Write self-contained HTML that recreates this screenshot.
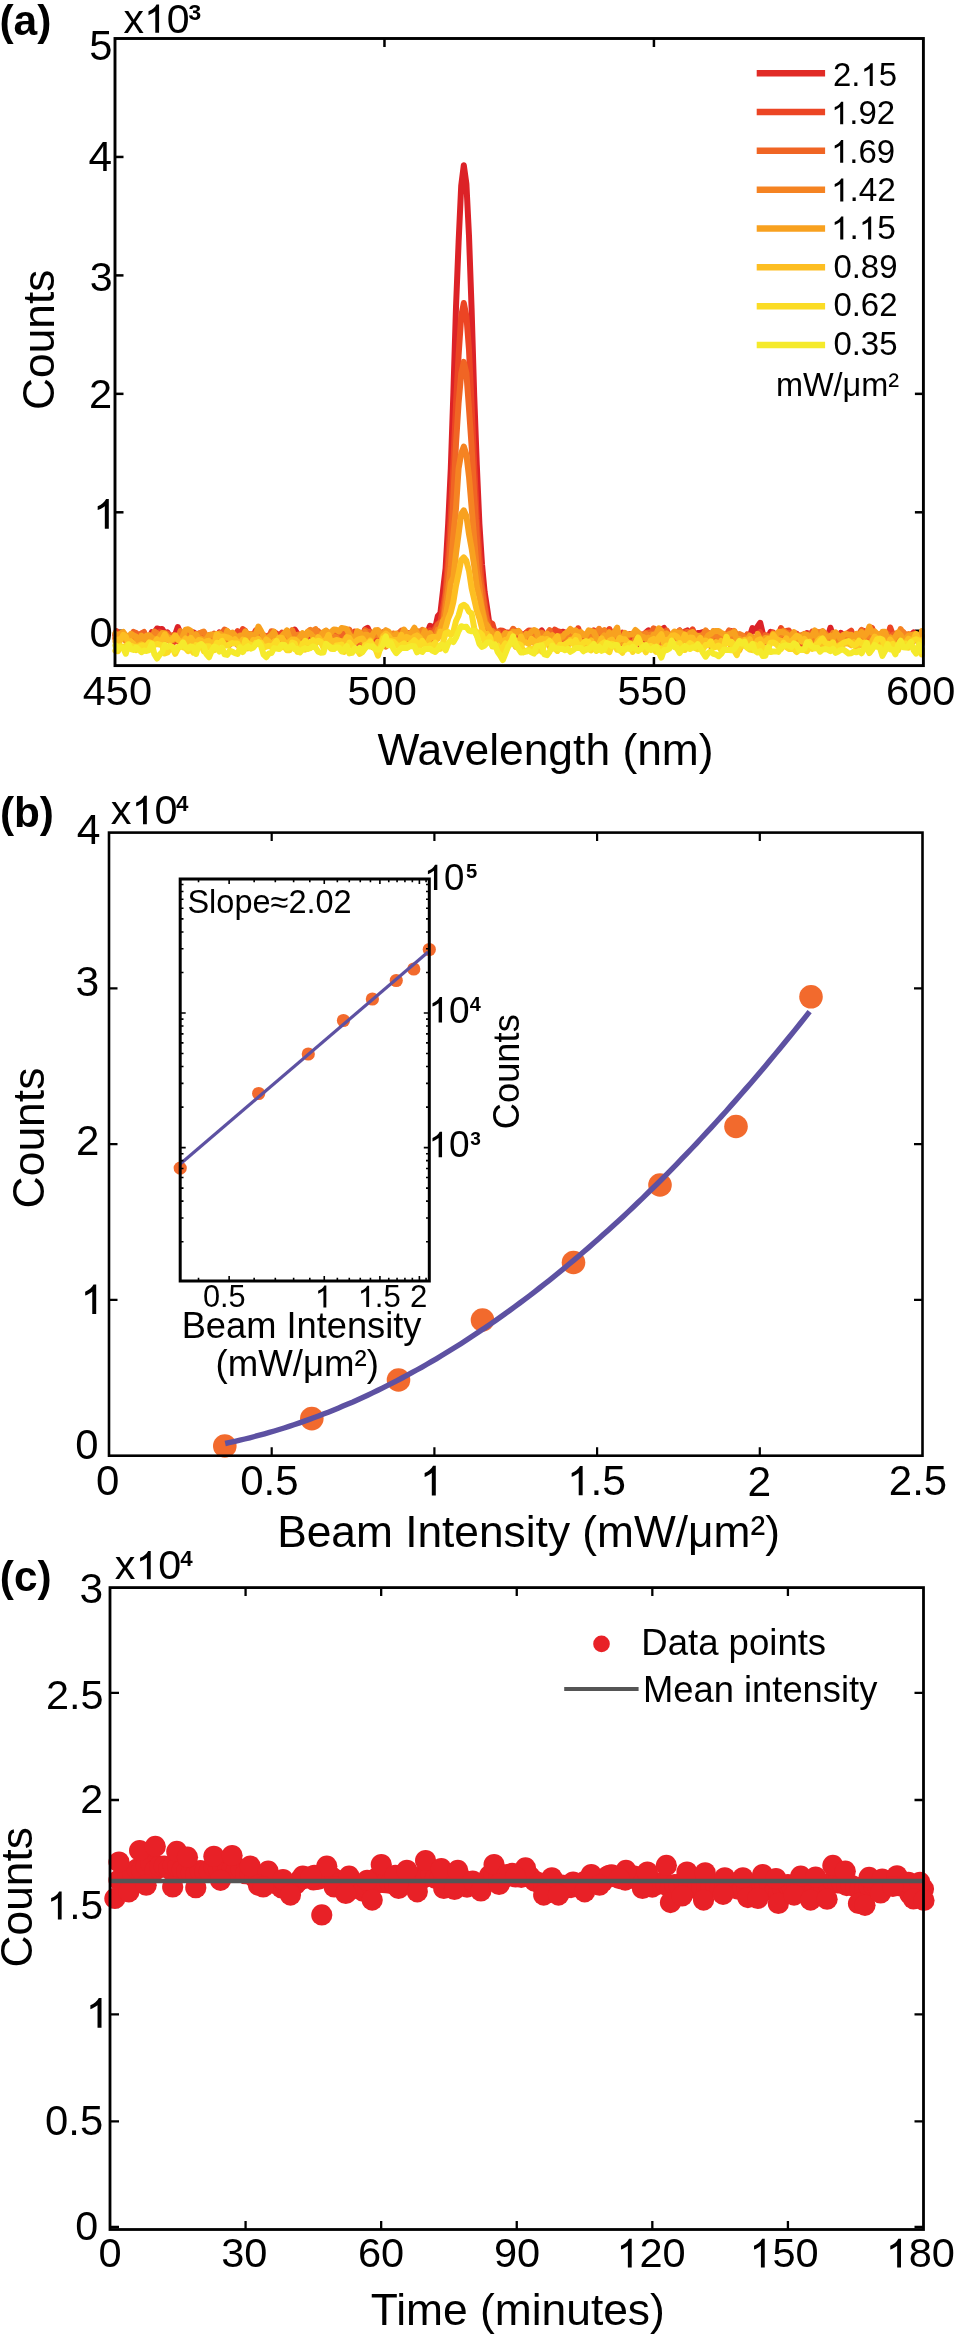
<!DOCTYPE html><html><head><meta charset="utf-8"><style>html,body{margin:0;padding:0;background:#fff;overflow:hidden}svg{display:block;will-change:transform}</style></head><body><svg width="969" height="2334" viewBox="0 0 969 2334" font-family='"Liberation Sans", sans-serif'>
<rect width="969" height="2334" fill="#fff"/>
<g stroke="#000" fill="none">
<path d="M384.47,665.6 v-8.5 M384.47,38.5 v8.5" stroke-width="2.5"/>
<path d="M653.93,665.6 v-8.5 M653.93,38.5 v8.5" stroke-width="2.5"/>
<path d="M115.0,630.75 h8.5" stroke-width="2.5"/>
<path d="M923.4,630.75 h-8.5" stroke-width="2.5"/>
<path d="M115.0,512.30 h8.5" stroke-width="2.5"/>
<path d="M923.4,512.30 h-8.5" stroke-width="2.5"/>
<path d="M115.0,393.85 h8.5" stroke-width="2.5"/>
<path d="M923.4,393.85 h-8.5" stroke-width="2.5"/>
<path d="M115.0,275.40 h8.5" stroke-width="2.5"/>
<path d="M115.0,156.95 h8.5" stroke-width="2.5"/>
</g>
<g fill="none" stroke-width="6" stroke-linejoin="round" stroke-linecap="round">
<polyline stroke="#DC2227" points="116.5,637.9 115.4,635.5 118.0,633.1 120.6,633.8 123.2,633.0 125.8,637.5 128.4,641.7 131.0,635.7 133.6,634.7 136.2,638.6 138.8,638.8 141.4,636.9 144.0,633.6 146.6,636.7 149.2,638.5 151.8,632.1 154.4,632.7 157.0,628.5 159.6,629.2 162.2,628.9 164.8,633.6 167.4,632.3 170.0,637.1 172.6,637.7 175.2,634.4 177.8,627.0 180.4,632.9 183.0,636.5 185.6,636.2 188.2,631.0 190.8,633.2 193.4,632.3 196.0,634.0 198.6,639.7 201.2,634.8 203.8,636.9 206.4,639.8 209.0,635.4 211.6,636.2 214.2,637.4 216.8,636.3 219.4,632.5 222.0,637.4 224.6,640.9 227.2,633.0 229.8,639.1 232.4,637.6 235.0,636.3 237.6,644.6 240.2,640.5 242.8,633.2 245.4,636.8 248.0,639.1 250.6,637.3 253.2,639.4 255.8,637.8 258.4,640.6 261.0,642.4 263.6,635.8 266.2,636.8 268.8,635.5 271.4,636.2 274.0,632.2 276.6,633.7 279.2,636.5 281.8,641.1 284.4,641.0 287.0,632.3 289.6,633.5 292.2,637.2 294.8,629.7 297.4,633.6 300.0,637.3 302.6,642.2 305.2,640.3 307.8,636.0 310.4,635.2 313.0,637.0 315.6,642.2 318.2,636.4 320.8,635.8 323.4,638.0 326.0,636.7 328.6,635.3 331.2,632.7 333.8,635.7 336.4,636.3 339.0,641.5 341.6,640.4 344.2,638.0 346.8,639.2 349.4,637.1 352.0,640.7 354.6,638.3 357.2,638.1 359.8,632.9 362.4,635.9 365.0,629.3 367.6,627.8 370.2,633.5 372.8,633.5 375.4,638.7 378.0,644.9 380.6,635.2 383.2,634.2 385.8,637.7 388.4,638.9 391.0,636.6 393.6,636.7 396.2,639.9 398.8,638.7 401.4,633.5 404.0,635.9 406.6,636.2 409.2,633.3 411.8,636.4 414.4,634.7 417.0,640.0 419.6,638.4 422.2,636.6 424.8,634.0 427.4,633.0 430.0,625.9 432.6,626.9 435.2,627.9 437.8,616.2 440.4,613.1 443.0,590.5 445.6,568.4 448.2,523.2 450.8,468.4 453.4,392.4 456.0,307.3 458.6,242.1 461.2,185.9 463.8,165.2 466.4,184.0 469.0,235.9 471.6,309.0 474.2,395.4 476.8,464.9 479.4,523.9 482.0,564.2 484.6,591.8 487.2,608.8 489.8,626.8 492.4,630.3 495.0,636.0 497.6,634.7 500.2,632.7 502.8,634.0 505.4,634.2 508.0,636.1 510.6,635.2 513.2,634.4 515.8,630.9 518.4,634.2 521.0,642.0 523.6,635.0 526.2,632.8 528.8,638.5 531.4,641.4 534.0,632.5 536.6,634.5 539.2,633.0 541.8,630.5 544.4,638.3 547.0,637.6 549.6,636.6 552.2,634.6 554.8,637.7 557.4,635.2 560.0,635.1 562.6,631.7 565.2,632.6 567.8,640.6 570.4,636.4 573.0,637.7 575.6,636.8 578.2,634.9 580.8,635.2 583.4,638.7 586.0,636.3 588.6,636.2 591.2,637.9 593.8,642.0 596.4,640.8 599.0,638.5 601.6,634.1 604.2,632.1 606.8,640.2 609.4,641.3 612.0,637.7 614.6,639.5 617.2,641.0 619.8,641.5 622.4,640.8 625.0,637.2 627.6,641.3 630.2,634.2 632.8,639.6 635.4,640.2 638.0,642.2 640.6,645.9 643.2,643.2 645.8,632.5 648.4,630.4 651.0,637.9 653.6,633.8 656.2,636.8 658.8,638.8 661.4,629.8 664.0,628.0 666.6,636.3 669.2,637.2 671.8,636.1 674.4,636.3 677.0,632.6 679.6,630.5 682.2,634.4 684.8,631.9 687.4,630.5 690.0,637.5 692.6,637.5 695.2,637.7 697.8,633.1 700.4,632.9 703.0,632.0 705.6,633.0 708.2,636.4 710.8,634.5 713.4,638.0 716.0,640.2 718.6,643.8 721.2,634.1 723.8,639.1 726.4,637.4 729.0,635.7 731.6,631.2 734.2,634.7 736.8,639.4 739.4,637.4 742.0,637.0 744.6,636.9 747.2,641.1 749.8,636.1 752.4,628.2 755.0,631.0 757.6,626.4 760.2,622.8 762.8,633.5 765.4,641.6 768.0,637.3 770.6,631.9 773.2,633.4 775.8,640.6 778.4,638.5 781.0,637.3 783.6,636.9 786.2,637.7 788.8,640.5 791.4,639.9 794.0,637.4 796.6,633.7 799.2,637.5 801.8,635.7 804.4,639.5 807.0,633.0 809.6,635.5 812.2,635.8 814.8,633.4 817.4,643.6 820.0,643.5 822.6,637.1 825.2,639.8 827.8,636.9 830.4,627.7 833.0,635.8 835.6,637.0 838.2,636.4 840.8,632.8 843.4,635.0 846.0,637.1 848.6,641.6 851.2,639.2 853.8,638.5 856.4,642.3 859.0,635.8 861.6,633.6 864.2,631.1 866.8,642.2 869.4,642.6 872.0,641.8 874.6,640.3 877.2,638.1 879.8,637.7 882.4,636.1 885.0,636.1 887.6,638.3 890.2,643.2 892.8,640.3 895.4,636.8 898.0,634.3 900.6,635.4 903.2,642.9 905.8,640.2 908.4,637.4 911.0,634.9 913.6,632.5 916.2,636.6 918.8,639.9 921.4,636.0 921.9,635.7"/>
<polyline stroke="#EC4524" points="116.5,631.1 115.4,634.2 118.0,634.4 120.6,639.0 123.2,635.3 125.8,639.7 128.4,642.8 131.0,636.6 133.6,634.7 136.2,637.2 138.8,636.4 141.4,633.7 144.0,639.5 146.6,644.5 149.2,637.5 151.8,635.2 154.4,633.3 157.0,636.4 159.6,631.8 162.2,633.0 164.8,640.1 167.4,635.5 170.0,641.4 172.6,643.6 175.2,639.6 177.8,640.7 180.4,644.4 183.0,637.3 185.6,633.6 188.2,631.6 190.8,637.2 193.4,643.2 196.0,640.9 198.6,633.7 201.2,632.8 203.8,634.7 206.4,637.5 209.0,636.6 211.6,637.9 214.2,638.0 216.8,636.1 219.4,636.8 222.0,637.7 224.6,637.2 227.2,640.2 229.8,644.7 232.4,640.7 235.0,636.4 237.6,631.2 240.2,635.6 242.8,629.1 245.4,631.0 248.0,639.6 250.6,640.1 253.2,635.7 255.8,630.4 258.4,633.8 261.0,634.7 263.6,640.5 266.2,645.9 268.8,638.9 271.4,633.4 274.0,632.1 276.6,635.7 279.2,635.4 281.8,632.8 284.4,635.6 287.0,633.8 289.6,641.0 292.2,642.6 294.8,641.4 297.4,636.5 300.0,638.4 302.6,636.6 305.2,635.2 307.8,634.4 310.4,630.9 313.0,631.4 315.6,638.6 318.2,637.1 320.8,638.4 323.4,639.5 326.0,630.9 328.6,632.9 331.2,637.3 333.8,638.3 336.4,636.7 339.0,640.6 341.6,637.6 344.2,632.0 346.8,633.3 349.4,639.6 352.0,637.8 354.6,631.5 357.2,640.9 359.8,641.3 362.4,642.1 365.0,636.4 367.6,634.7 370.2,634.6 372.8,645.2 375.4,639.6 378.0,642.1 380.6,636.0 383.2,635.8 385.8,630.7 388.4,635.1 391.0,639.3 393.6,634.0 396.2,640.2 398.8,638.2 401.4,633.1 404.0,634.0 406.6,634.9 409.2,636.0 411.8,634.3 414.4,633.3 417.0,634.4 419.6,631.9 422.2,631.2 424.8,635.9 427.4,637.9 430.0,630.3 432.6,632.1 435.2,628.3 437.8,623.9 440.4,622.0 443.0,607.7 445.6,592.3 448.2,556.3 450.8,516.5 453.4,462.6 456.0,404.2 458.6,355.3 461.2,316.3 463.8,303.0 466.4,316.1 469.0,349.8 471.6,405.5 474.2,464.6 476.8,518.7 479.4,555.1 482.0,585.7 484.6,602.0 487.2,620.2 489.8,622.4 492.4,623.9 495.0,633.0 497.6,638.0 500.2,630.4 502.8,630.7 505.4,632.3 508.0,632.5 510.6,636.8 513.2,633.8 515.8,634.2 518.4,638.0 521.0,635.0 523.6,637.2 526.2,632.9 528.8,630.4 531.4,630.8 534.0,642.1 536.6,637.5 539.2,637.6 541.8,637.2 544.4,637.6 547.0,638.8 549.6,643.2 552.2,633.5 554.8,629.7 557.4,631.1 560.0,631.9 562.6,639.3 565.2,639.8 567.8,633.1 570.4,630.9 573.0,635.7 575.6,639.6 578.2,628.2 580.8,635.9 583.4,634.3 586.0,639.1 588.6,633.7 591.2,633.9 593.8,630.5 596.4,633.4 599.0,641.9 601.6,640.8 604.2,635.5 606.8,632.0 609.4,629.1 612.0,634.1 614.6,636.5 617.2,636.6 619.8,635.7 622.4,632.8 625.0,635.9 627.6,637.8 630.2,643.1 632.8,644.7 635.4,637.4 638.0,634.1 640.6,635.7 643.2,634.2 645.8,633.8 648.4,635.4 651.0,633.6 653.6,638.3 656.2,637.3 658.8,637.7 661.4,636.0 664.0,633.5 666.6,632.8 669.2,635.0 671.8,635.0 674.4,637.4 677.0,636.1 679.6,632.1 682.2,635.1 684.8,631.7 687.4,633.5 690.0,633.8 692.6,629.3 695.2,635.8 697.8,637.5 700.4,636.2 703.0,635.0 705.6,634.5 708.2,632.9 710.8,634.8 713.4,634.9 716.0,636.0 718.6,632.9 721.2,637.0 723.8,637.6 726.4,636.3 729.0,635.7 731.6,637.4 734.2,631.7 736.8,637.6 739.4,638.5 742.0,638.5 744.6,638.1 747.2,634.7 749.8,636.0 752.4,639.5 755.0,639.2 757.6,636.9 760.2,632.1 762.8,638.7 765.4,642.5 768.0,641.8 770.6,637.4 773.2,632.3 775.8,639.1 778.4,635.2 781.0,628.0 783.6,635.2 786.2,630.9 788.8,630.6 791.4,634.7 794.0,640.8 796.6,636.9 799.2,639.1 801.8,644.8 804.4,644.1 807.0,637.7 809.6,635.1 812.2,631.7 814.8,633.8 817.4,638.3 820.0,638.9 822.6,638.5 825.2,640.1 827.8,634.9 830.4,636.8 833.0,640.1 835.6,640.5 838.2,641.7 840.8,639.0 843.4,636.5 846.0,637.3 848.6,632.4 851.2,630.7 853.8,637.8 856.4,637.5 859.0,636.8 861.6,630.8 864.2,633.9 866.8,633.9 869.4,631.6 872.0,627.9 874.6,634.7 877.2,640.3 879.8,638.6 882.4,635.1 885.0,637.1 887.6,637.6 890.2,627.5 892.8,634.8 895.4,639.4 898.0,641.2 900.6,644.6 903.2,642.7 905.8,639.3 908.4,639.0 911.0,639.7 913.6,635.6 916.2,637.1 918.8,641.8 921.4,644.7 921.9,637.9"/>
<polyline stroke="#F06524" points="116.5,641.8 115.4,639.0 118.0,641.3 120.6,634.6 123.2,635.5 125.8,636.8 128.4,640.4 131.0,640.1 133.6,631.9 136.2,633.0 138.8,637.0 141.4,633.8 144.0,632.0 146.6,639.8 149.2,639.8 151.8,638.7 154.4,636.5 157.0,640.0 159.6,637.7 162.2,639.9 164.8,634.0 167.4,633.5 170.0,636.6 172.6,635.2 175.2,639.0 177.8,637.7 180.4,634.1 183.0,636.3 185.6,636.5 188.2,639.4 190.8,635.2 193.4,635.9 196.0,642.5 198.6,647.1 201.2,645.6 203.8,638.9 206.4,638.9 209.0,642.4 211.6,637.0 214.2,633.6 216.8,637.0 219.4,638.0 222.0,633.2 224.6,629.6 227.2,631.3 229.8,637.7 232.4,634.8 235.0,636.1 237.6,638.1 240.2,639.1 242.8,636.7 245.4,637.8 248.0,634.0 250.6,634.3 253.2,634.0 255.8,640.1 258.4,637.2 261.0,634.2 263.6,635.1 266.2,636.5 268.8,638.1 271.4,631.2 274.0,631.9 276.6,636.8 279.2,646.2 281.8,642.1 284.4,637.9 287.0,640.9 289.6,644.5 292.2,637.4 294.8,636.5 297.4,641.3 300.0,640.1 302.6,639.3 305.2,637.2 307.8,644.6 310.4,644.8 313.0,640.7 315.6,638.3 318.2,631.0 320.8,637.6 323.4,637.1 326.0,638.9 328.6,639.4 331.2,635.1 333.8,631.2 336.4,636.5 339.0,634.5 341.6,634.9 344.2,634.4 346.8,633.7 349.4,629.7 352.0,639.7 354.6,639.6 357.2,642.5 359.8,644.7 362.4,637.2 365.0,630.1 367.6,631.7 370.2,631.8 372.8,634.4 375.4,635.4 378.0,630.4 380.6,635.6 383.2,632.2 385.8,636.8 388.4,636.6 391.0,635.8 393.6,636.1 396.2,634.6 398.8,633.2 401.4,630.7 404.0,637.0 406.6,644.8 409.2,646.2 411.8,643.6 414.4,639.9 417.0,636.2 419.6,641.3 422.2,637.6 424.8,636.0 427.4,635.2 430.0,635.3 432.6,632.9 435.2,631.0 437.8,624.9 440.4,622.6 443.0,620.5 445.6,597.8 448.2,571.2 450.8,539.4 453.4,496.3 456.0,443.8 458.6,402.9 461.2,373.6 463.8,361.9 466.4,373.2 469.0,408.8 471.6,446.1 474.2,493.7 476.8,536.6 479.4,575.0 482.0,590.4 484.6,608.8 487.2,621.2 489.8,631.3 492.4,636.0 495.0,638.5 497.6,631.6 500.2,637.4 502.8,635.6 505.4,634.6 508.0,637.6 510.6,632.6 513.2,628.8 515.8,633.1 518.4,631.1 521.0,633.9 523.6,638.0 526.2,639.5 528.8,642.6 531.4,636.3 534.0,631.0 536.6,632.6 539.2,632.4 541.8,632.4 544.4,637.1 547.0,633.6 549.6,630.2 552.2,637.9 554.8,637.4 557.4,638.2 560.0,638.1 562.6,639.3 565.2,638.5 567.8,641.6 570.4,639.7 573.0,639.0 575.6,637.6 578.2,632.1 580.8,635.2 583.4,636.1 586.0,636.5 588.6,633.7 591.2,641.7 593.8,637.7 596.4,631.6 599.0,630.0 601.6,634.7 604.2,635.9 606.8,634.5 609.4,636.3 612.0,635.3 614.6,637.9 617.2,634.9 619.8,637.1 622.4,642.3 625.0,645.9 627.6,635.1 630.2,634.0 632.8,634.3 635.4,638.2 638.0,633.2 640.6,634.5 643.2,635.8 645.8,632.9 648.4,632.6 651.0,633.1 653.6,628.3 656.2,630.1 658.8,634.6 661.4,637.1 664.0,635.2 666.6,630.4 669.2,634.7 671.8,639.8 674.4,639.5 677.0,636.5 679.6,634.3 682.2,638.1 684.8,634.6 687.4,631.9 690.0,634.4 692.6,641.6 695.2,639.7 697.8,640.8 700.4,636.9 703.0,639.4 705.6,635.5 708.2,637.9 710.8,646.1 713.4,641.1 716.0,635.8 718.6,636.6 721.2,639.0 723.8,641.1 726.4,634.9 729.0,630.4 731.6,634.8 734.2,636.9 736.8,638.4 739.4,641.9 742.0,639.7 744.6,639.2 747.2,634.4 749.8,640.7 752.4,645.5 755.0,641.4 757.6,638.6 760.2,639.0 762.8,642.6 765.4,635.0 768.0,636.3 770.6,639.1 773.2,639.6 775.8,636.3 778.4,637.5 781.0,636.4 783.6,637.1 786.2,635.8 788.8,632.9 791.4,636.7 794.0,639.3 796.6,634.1 799.2,635.9 801.8,638.3 804.4,633.9 807.0,636.1 809.6,634.3 812.2,641.9 814.8,647.3 817.4,645.6 820.0,638.3 822.6,639.5 825.2,638.0 827.8,638.6 830.4,641.5 833.0,634.4 835.6,639.6 838.2,638.7 840.8,642.0 843.4,638.2 846.0,635.0 848.6,638.0 851.2,639.8 853.8,638.0 856.4,638.3 859.0,634.0 861.6,629.9 864.2,639.1 866.8,640.2 869.4,638.1 872.0,638.1 874.6,640.3 877.2,635.7 879.8,634.1 882.4,636.7 885.0,639.9 887.6,634.0 890.2,639.6 892.8,634.9 895.4,633.7 898.0,640.5 900.6,636.6 903.2,632.2 905.8,635.5 908.4,640.8 911.0,641.5 913.6,636.7 916.2,638.6 918.8,639.3 921.4,635.6 921.9,637.7"/>
<polyline stroke="#F58322" points="116.5,635.5 115.4,637.4 118.0,637.2 120.6,635.3 123.2,636.5 125.8,641.1 128.4,639.7 131.0,641.5 133.6,642.6 136.2,642.0 138.8,645.0 141.4,636.9 144.0,639.4 146.6,638.4 149.2,644.7 151.8,643.2 154.4,631.5 157.0,633.3 159.6,639.6 162.2,641.2 164.8,640.5 167.4,638.1 170.0,639.5 172.6,640.0 175.2,638.4 177.8,639.3 180.4,631.1 183.0,637.3 185.6,635.2 188.2,639.8 190.8,636.8 193.4,634.6 196.0,637.5 198.6,634.0 201.2,632.6 203.8,631.5 206.4,636.6 209.0,639.9 211.6,641.2 214.2,638.5 216.8,640.9 219.4,638.2 222.0,637.6 224.6,640.1 227.2,641.2 229.8,636.9 232.4,636.3 235.0,636.8 237.6,637.0 240.2,635.3 242.8,640.0 245.4,637.2 248.0,638.2 250.6,635.3 253.2,638.4 255.8,638.8 258.4,637.8 261.0,644.3 263.6,641.5 266.2,644.4 268.8,641.5 271.4,635.7 274.0,636.1 276.6,638.7 279.2,638.1 281.8,637.5 284.4,635.3 287.0,631.0 289.6,633.8 292.2,630.1 294.8,636.6 297.4,634.8 300.0,634.4 302.6,636.4 305.2,637.2 307.8,631.6 310.4,629.8 313.0,631.2 315.6,629.2 318.2,633.9 320.8,641.4 323.4,635.6 326.0,637.9 328.6,633.6 331.2,637.3 333.8,636.6 336.4,637.5 339.0,640.6 341.6,644.0 344.2,639.5 346.8,637.4 349.4,634.7 352.0,638.6 354.6,637.7 357.2,640.1 359.8,639.2 362.4,641.9 365.0,631.9 367.6,635.7 370.2,640.0 372.8,636.4 375.4,634.4 378.0,635.0 380.6,632.8 383.2,638.7 385.8,646.6 388.4,642.3 391.0,634.0 393.6,633.5 396.2,636.2 398.8,640.0 401.4,635.0 404.0,635.2 406.6,640.6 409.2,640.8 411.8,636.0 414.4,632.3 417.0,630.9 419.6,632.3 422.2,629.9 424.8,637.6 427.4,635.7 430.0,639.0 432.6,643.2 435.2,638.8 437.8,629.6 440.4,630.8 443.0,624.8 445.6,607.2 448.2,588.5 450.8,566.3 453.4,534.4 456.0,508.4 458.6,468.4 461.2,453.4 463.8,446.5 466.4,454.6 469.0,476.8 471.6,507.2 474.2,539.1 476.8,570.6 479.4,586.0 482.0,607.5 484.6,618.6 487.2,627.9 489.8,632.1 492.4,630.9 495.0,633.4 497.6,638.9 500.2,638.2 502.8,636.6 505.4,645.4 508.0,645.6 510.6,634.4 513.2,639.2 515.8,646.7 518.4,642.1 521.0,638.7 523.6,636.6 526.2,635.4 528.8,636.0 531.4,636.0 534.0,639.3 536.6,636.4 539.2,634.9 541.8,633.1 544.4,635.8 547.0,634.3 549.6,637.0 552.2,641.1 554.8,639.8 557.4,639.7 560.0,639.1 562.6,637.9 565.2,636.9 567.8,636.9 570.4,639.1 573.0,635.4 575.6,641.3 578.2,638.0 580.8,634.7 583.4,634.8 586.0,635.0 588.6,637.0 591.2,636.0 593.8,640.3 596.4,634.1 599.0,628.8 601.6,632.0 604.2,630.2 606.8,636.7 609.4,641.5 612.0,639.5 614.6,632.9 617.2,635.3 619.8,643.2 622.4,639.9 625.0,638.5 627.6,642.8 630.2,647.5 632.8,643.7 635.4,639.2 638.0,639.2 640.6,639.4 643.2,635.1 645.8,633.5 648.4,636.2 651.0,634.3 653.6,636.7 656.2,639.5 658.8,644.8 661.4,636.2 664.0,636.4 666.6,637.2 669.2,639.6 671.8,641.0 674.4,636.0 677.0,633.2 679.6,630.7 682.2,633.6 684.8,638.7 687.4,637.3 690.0,633.8 692.6,635.5 695.2,637.7 697.8,638.8 700.4,635.7 703.0,634.9 705.6,630.4 708.2,633.5 710.8,640.5 713.4,631.1 716.0,634.9 718.6,637.7 721.2,635.8 723.8,634.5 726.4,636.7 729.0,637.4 731.6,635.9 734.2,631.0 736.8,635.0 739.4,634.1 742.0,635.2 744.6,638.3 747.2,640.5 749.8,640.6 752.4,637.1 755.0,641.1 757.6,642.9 760.2,643.2 762.8,642.9 765.4,637.9 768.0,637.4 770.6,639.2 773.2,633.6 775.8,636.8 778.4,635.6 781.0,634.6 783.6,630.7 786.2,633.2 788.8,637.4 791.4,641.2 794.0,641.4 796.6,637.8 799.2,636.2 801.8,634.9 804.4,638.1 807.0,637.4 809.6,640.6 812.2,643.8 814.8,637.6 817.4,631.8 820.0,632.5 822.6,631.1 825.2,633.4 827.8,641.2 830.4,638.1 833.0,633.0 835.6,639.5 838.2,642.0 840.8,636.7 843.4,634.7 846.0,636.1 848.6,638.7 851.2,640.7 853.8,642.8 856.4,643.3 859.0,643.3 861.6,643.4 864.2,639.6 866.8,632.7 869.4,636.2 872.0,638.2 874.6,637.1 877.2,640.0 879.8,636.3 882.4,635.2 885.0,642.2 887.6,640.9 890.2,639.4 892.8,641.5 895.4,642.0 898.0,637.6 900.6,629.0 903.2,633.1 905.8,634.8 908.4,634.0 911.0,638.3 913.6,641.3 916.2,635.9 918.8,634.8 921.4,643.2 921.9,636.6"/>
<polyline stroke="#F8A11F" points="116.5,636.0 115.4,633.6 118.0,636.7 120.6,633.4 123.2,631.9 125.8,635.5 128.4,637.1 131.0,633.8 133.6,635.5 136.2,636.8 138.8,643.3 141.4,635.6 144.0,638.8 146.6,635.7 149.2,635.1 151.8,637.8 154.4,639.1 157.0,639.8 159.6,636.5 162.2,633.0 164.8,633.3 167.4,636.6 170.0,638.1 172.6,640.0 175.2,638.0 177.8,639.6 180.4,640.6 183.0,635.5 185.6,629.7 188.2,629.3 190.8,630.8 193.4,638.4 196.0,634.2 198.6,638.7 201.2,638.8 203.8,641.4 206.4,639.2 209.0,635.2 211.6,634.4 214.2,635.2 216.8,635.2 219.4,633.4 222.0,635.6 224.6,638.9 227.2,630.9 229.8,634.1 232.4,632.5 235.0,635.5 237.6,637.7 240.2,635.9 242.8,636.3 245.4,631.3 248.0,637.0 250.6,634.3 253.2,636.7 255.8,634.3 258.4,626.5 261.0,631.0 263.6,636.2 266.2,640.2 268.8,637.1 271.4,635.1 274.0,631.7 276.6,639.7 279.2,641.6 281.8,636.2 284.4,633.2 287.0,630.4 289.6,638.5 292.2,644.5 294.8,639.9 297.4,639.8 300.0,636.9 302.6,633.2 305.2,637.7 307.8,631.9 310.4,633.7 313.0,636.3 315.6,638.2 318.2,637.2 320.8,636.0 323.4,632.0 326.0,630.5 328.6,633.9 331.2,631.9 333.8,629.6 336.4,629.8 339.0,631.4 341.6,628.0 344.2,628.4 346.8,629.1 349.4,634.7 352.0,637.7 354.6,640.6 357.2,631.2 359.8,632.5 362.4,637.3 365.0,634.7 367.6,635.0 370.2,639.9 372.8,634.3 375.4,630.3 378.0,630.3 380.6,635.4 383.2,635.3 385.8,630.3 388.4,631.4 391.0,636.4 393.6,636.7 396.2,633.8 398.8,636.9 401.4,636.0 404.0,629.6 406.6,633.1 409.2,635.7 411.8,632.0 414.4,627.7 417.0,633.2 419.6,638.2 422.2,638.9 424.8,630.7 427.4,640.6 430.0,633.2 432.6,636.9 435.2,638.1 437.8,635.3 440.4,629.0 443.0,620.9 445.6,617.2 448.2,601.6 450.8,582.9 453.4,577.4 456.0,553.6 458.6,533.9 461.2,514.0 463.8,510.3 466.4,515.9 469.0,534.3 471.6,548.4 474.2,565.8 476.8,586.5 479.4,597.0 482.0,609.8 484.6,622.5 487.2,625.5 489.8,630.1 492.4,633.7 495.0,640.6 497.6,639.6 500.2,636.2 502.8,638.0 505.4,633.0 508.0,634.0 510.6,636.8 513.2,631.5 515.8,632.4 518.4,630.8 521.0,635.6 523.6,639.7 526.2,633.9 528.8,634.6 531.4,631.6 534.0,630.0 536.6,631.3 539.2,640.3 541.8,643.7 544.4,637.6 547.0,633.6 549.6,636.5 552.2,635.0 554.8,637.5 557.4,636.6 560.0,636.5 562.6,636.7 565.2,633.3 567.8,632.2 570.4,629.0 573.0,631.5 575.6,630.2 578.2,633.0 580.8,632.0 583.4,635.0 586.0,635.5 588.6,630.3 591.2,630.9 593.8,632.0 596.4,637.8 599.0,641.4 601.6,638.6 604.2,635.5 606.8,638.3 609.4,632.2 612.0,638.2 614.6,632.1 617.2,627.6 619.8,642.5 622.4,641.0 625.0,632.9 627.6,634.7 630.2,634.5 632.8,634.2 635.4,630.0 638.0,632.2 640.6,636.2 643.2,636.8 645.8,639.0 648.4,637.6 651.0,641.9 653.6,634.5 656.2,634.0 658.8,628.3 661.4,630.7 664.0,637.7 666.6,633.3 669.2,636.0 671.8,634.5 674.4,631.5 677.0,632.9 679.6,632.8 682.2,633.6 684.8,637.5 687.4,637.2 690.0,633.0 692.6,632.0 695.2,635.2 697.8,635.6 700.4,639.9 703.0,644.6 705.6,639.4 708.2,635.3 710.8,633.9 713.4,631.6 716.0,630.9 718.6,631.0 721.2,632.8 723.8,633.9 726.4,636.8 729.0,634.1 731.6,633.3 734.2,632.2 736.8,639.7 739.4,638.9 742.0,641.5 744.6,639.7 747.2,640.0 749.8,635.7 752.4,638.9 755.0,643.1 757.6,633.8 760.2,639.0 762.8,641.4 765.4,638.0 768.0,638.5 770.6,639.1 773.2,634.0 775.8,635.3 778.4,632.0 781.0,631.8 783.6,632.5 786.2,634.2 788.8,635.7 791.4,635.6 794.0,632.1 796.6,641.2 799.2,640.6 801.8,637.9 804.4,634.3 807.0,634.8 809.6,637.0 812.2,635.5 814.8,630.4 817.4,638.2 820.0,643.6 822.6,631.8 825.2,637.2 827.8,636.8 830.4,635.8 833.0,638.5 835.6,632.3 838.2,635.7 840.8,639.7 843.4,635.1 846.0,633.6 848.6,634.8 851.2,634.7 853.8,639.0 856.4,633.8 859.0,636.3 861.6,632.0 864.2,636.2 866.8,633.3 869.4,626.6 872.0,632.5 874.6,631.3 877.2,633.9 879.8,638.9 882.4,631.7 885.0,631.8 887.6,639.0 890.2,637.4 892.8,640.3 895.4,636.5 898.0,632.3 900.6,635.0 903.2,639.6 905.8,638.9 908.4,635.7 911.0,635.1 913.6,634.3 916.2,634.4 918.8,640.8 921.4,635.6 921.9,631.0"/>
<polyline stroke="#FDBE22" points="116.5,644.8 115.4,641.5 118.0,639.4 120.6,640.2 123.2,634.8 125.8,636.5 128.4,643.5 131.0,641.2 133.6,644.0 136.2,647.3 138.8,645.4 141.4,644.3 144.0,650.4 146.6,645.9 149.2,641.8 151.8,644.7 154.4,643.4 157.0,639.2 159.6,641.5 162.2,639.9 164.8,634.5 167.4,639.6 170.0,640.5 172.6,638.9 175.2,635.3 177.8,639.4 180.4,641.7 183.0,641.4 185.6,638.4 188.2,642.5 190.8,637.8 193.4,641.2 196.0,646.1 198.6,640.1 201.2,640.4 203.8,645.2 206.4,641.2 209.0,640.8 211.6,643.4 214.2,644.3 216.8,634.1 219.4,636.4 222.0,636.8 224.6,636.5 227.2,637.3 229.8,638.5 232.4,641.7 235.0,639.1 237.6,642.1 240.2,643.0 242.8,639.7 245.4,643.2 248.0,648.4 250.6,644.0 253.2,639.9 255.8,640.5 258.4,638.8 261.0,642.9 263.6,644.7 266.2,639.5 268.8,641.5 271.4,645.5 274.0,641.2 276.6,641.5 279.2,637.8 281.8,637.8 284.4,641.2 287.0,649.1 289.6,641.8 292.2,639.4 294.8,639.4 297.4,641.5 300.0,644.4 302.6,644.8 305.2,649.7 307.8,645.5 310.4,647.6 313.0,644.6 315.6,643.3 318.2,637.2 320.8,640.4 323.4,641.5 326.0,639.4 328.6,634.8 331.2,643.2 333.8,641.0 336.4,639.9 339.0,640.6 341.6,641.3 344.2,642.3 346.8,637.0 349.4,637.9 352.0,642.4 354.6,642.5 357.2,640.3 359.8,639.0 362.4,638.5 365.0,642.1 367.6,645.4 370.2,640.3 372.8,647.3 375.4,645.8 378.0,641.6 380.6,643.3 383.2,636.0 385.8,633.7 388.4,635.7 391.0,639.3 393.6,640.1 396.2,640.0 398.8,640.3 401.4,634.8 404.0,641.0 406.6,636.8 409.2,638.2 411.8,639.1 414.4,636.5 417.0,635.4 419.6,637.3 422.2,641.6 424.8,644.4 427.4,643.4 430.0,637.8 432.6,636.9 435.2,637.0 437.8,638.8 440.4,631.6 443.0,637.0 445.6,628.0 448.2,618.7 450.8,612.3 453.4,601.7 456.0,585.6 458.6,573.3 461.2,560.1 463.8,557.4 466.4,560.9 469.0,570.9 471.6,588.0 474.2,599.2 476.8,610.6 479.4,618.2 482.0,628.2 484.6,636.0 487.2,634.0 489.8,641.1 492.4,642.5 495.0,640.7 497.6,633.8 500.2,640.2 502.8,643.5 505.4,639.8 508.0,639.9 510.6,634.0 513.2,642.1 515.8,640.8 518.4,643.2 521.0,636.6 523.6,642.9 526.2,642.3 528.8,644.0 531.4,638.8 534.0,640.8 536.6,648.9 539.2,640.2 541.8,638.6 544.4,639.7 547.0,639.0 549.6,646.8 552.2,648.6 554.8,639.5 557.4,636.2 560.0,645.7 562.6,647.5 565.2,646.7 567.8,646.1 570.4,639.7 573.0,639.7 575.6,635.8 578.2,636.6 580.8,643.9 583.4,642.1 586.0,649.7 588.6,643.5 591.2,640.4 593.8,645.7 596.4,649.4 599.0,644.2 601.6,638.3 604.2,643.5 606.8,646.8 609.4,640.7 612.0,639.6 614.6,645.2 617.2,642.4 619.8,637.9 622.4,639.2 625.0,639.2 627.6,642.6 630.2,643.5 632.8,646.7 635.4,644.2 638.0,637.3 640.6,642.9 643.2,645.9 645.8,645.1 648.4,645.6 651.0,640.1 653.6,638.9 656.2,643.8 658.8,637.2 661.4,634.2 664.0,643.5 666.6,640.0 669.2,639.3 671.8,635.7 674.4,635.3 677.0,636.6 679.6,640.1 682.2,641.3 684.8,634.6 687.4,642.0 690.0,637.5 692.6,637.8 695.2,643.6 697.8,641.1 700.4,637.9 703.0,646.8 705.6,640.5 708.2,642.4 710.8,644.0 713.4,646.9 716.0,642.2 718.6,644.7 721.2,641.0 723.8,644.9 726.4,639.9 729.0,641.6 731.6,648.8 734.2,644.7 736.8,644.4 739.4,650.4 742.0,644.4 744.6,639.9 747.2,643.1 749.8,639.2 752.4,646.1 755.0,646.7 757.6,640.4 760.2,639.4 762.8,642.2 765.4,641.4 768.0,638.9 770.6,641.7 773.2,634.8 775.8,638.6 778.4,640.0 781.0,640.9 783.6,641.9 786.2,638.3 788.8,643.0 791.4,641.3 794.0,638.5 796.6,635.7 799.2,637.0 801.8,641.6 804.4,638.9 807.0,642.3 809.6,646.6 812.2,647.7 814.8,648.2 817.4,641.3 820.0,638.7 822.6,645.1 825.2,644.8 827.8,646.3 830.4,643.8 833.0,646.9 835.6,646.5 838.2,645.6 840.8,644.7 843.4,644.0 846.0,643.3 848.6,643.7 851.2,645.3 853.8,642.3 856.4,647.7 859.0,643.7 861.6,645.4 864.2,642.2 866.8,642.6 869.4,648.9 872.0,641.5 874.6,636.6 877.2,638.2 879.8,642.0 882.4,649.6 885.0,645.1 887.6,644.7 890.2,639.4 892.8,643.0 895.4,646.1 898.0,648.4 900.6,641.4 903.2,643.9 905.8,642.8 908.4,638.6 911.0,640.9 913.6,639.3 916.2,633.9 918.8,642.8 921.4,644.1 921.9,639.8"/>
<polyline stroke="#FBDC25" points="116.5,648.8 115.4,650.8 118.0,651.3 120.6,645.8 123.2,648.3 125.8,645.7 128.4,645.5 131.0,645.7 133.6,646.8 136.2,650.0 138.8,647.1 141.4,645.4 144.0,645.2 146.6,646.3 149.2,642.8 151.8,643.5 154.4,645.0 157.0,643.9 159.6,644.7 162.2,645.3 164.8,653.5 167.4,652.5 170.0,648.5 172.6,647.8 175.2,653.8 177.8,648.7 180.4,646.2 183.0,647.2 185.6,648.3 188.2,651.1 190.8,648.6 193.4,652.6 196.0,645.0 198.6,647.0 201.2,644.4 203.8,651.3 206.4,646.2 209.0,646.2 211.6,650.1 214.2,650.2 216.8,642.8 219.4,642.9 222.0,641.0 224.6,645.4 227.2,645.5 229.8,644.2 232.4,643.1 235.0,643.6 237.6,643.5 240.2,648.4 242.8,650.2 245.4,640.3 248.0,643.8 250.6,644.8 253.2,646.7 255.8,642.9 258.4,644.0 261.0,642.8 263.6,647.7 266.2,646.7 268.8,645.8 271.4,647.0 274.0,644.3 276.6,640.8 279.2,647.1 281.8,647.3 284.4,646.4 287.0,650.2 289.6,650.2 292.2,642.5 294.8,643.6 297.4,651.9 300.0,651.5 302.6,643.6 305.2,640.9 307.8,642.5 310.4,642.6 313.0,640.1 315.6,644.0 318.2,640.7 320.8,641.5 323.4,647.8 326.0,644.3 328.6,645.7 331.2,648.7 333.8,649.1 336.4,645.5 339.0,645.3 341.6,644.5 344.2,652.0 346.8,648.7 349.4,642.6 352.0,645.7 354.6,648.8 357.2,649.6 359.8,653.8 362.4,651.7 365.0,645.1 367.6,644.3 370.2,641.7 372.8,646.0 375.4,648.7 378.0,655.6 380.6,646.8 383.2,638.3 385.8,642.2 388.4,645.0 391.0,641.1 393.6,641.8 396.2,644.3 398.8,646.8 401.4,645.0 404.0,643.4 406.6,647.7 409.2,644.3 411.8,642.8 414.4,640.2 417.0,642.7 419.6,646.5 422.2,640.8 424.8,645.0 427.4,648.0 430.0,645.2 432.6,645.3 435.2,642.6 437.8,649.4 440.4,648.9 443.0,642.8 445.6,633.3 448.2,632.1 450.8,635.1 453.4,631.7 456.0,621.0 458.6,615.4 461.2,606.3 463.8,604.7 466.4,606.7 469.0,611.6 471.6,613.5 474.2,627.9 476.8,635.6 479.4,632.3 482.0,634.7 484.6,642.1 487.2,640.1 489.8,636.7 492.4,646.5 495.0,646.4 497.6,645.8 500.2,653.0 502.8,647.4 505.4,643.5 508.0,645.0 510.6,641.9 513.2,642.9 515.8,646.4 518.4,644.0 521.0,645.3 523.6,652.1 526.2,650.8 528.8,649.8 531.4,648.8 534.0,649.2 536.6,651.4 539.2,648.4 541.8,651.7 544.4,643.9 547.0,643.4 549.6,640.8 552.2,644.2 554.8,648.6 557.4,650.9 560.0,644.8 562.6,645.3 565.2,644.2 567.8,642.3 570.4,641.4 573.0,644.0 575.6,640.1 578.2,645.1 580.8,645.7 583.4,643.0 586.0,641.0 588.6,641.8 591.2,650.5 593.8,643.9 596.4,650.9 599.0,649.0 601.6,644.3 604.2,642.5 606.8,650.1 609.4,652.1 612.0,643.8 614.6,645.0 617.2,649.7 619.8,649.4 622.4,652.8 625.0,645.9 627.6,646.5 630.2,643.6 632.8,651.8 635.4,643.4 638.0,637.7 640.6,643.8 643.2,646.9 645.8,652.3 648.4,646.2 651.0,646.1 653.6,649.2 656.2,651.9 658.8,647.7 661.4,650.0 664.0,648.4 666.6,645.4 669.2,646.1 671.8,645.5 674.4,643.7 677.0,648.5 679.6,643.0 682.2,649.8 684.8,650.1 687.4,645.8 690.0,643.1 692.6,645.0 695.2,648.0 697.8,649.2 700.4,648.3 703.0,649.3 705.6,645.0 708.2,645.2 710.8,641.3 713.4,647.6 716.0,646.8 718.6,645.5 721.2,650.3 723.8,647.2 726.4,636.7 729.0,643.0 731.6,641.8 734.2,650.5 736.8,655.1 739.4,646.1 742.0,645.7 744.6,645.4 747.2,647.5 749.8,649.5 752.4,650.2 755.0,644.7 757.6,650.0 760.2,644.1 762.8,647.1 765.4,650.8 768.0,648.6 770.6,642.7 773.2,642.5 775.8,643.8 778.4,646.3 781.0,649.0 783.6,642.7 786.2,647.1 788.8,648.9 791.4,648.7 794.0,649.2 796.6,652.0 799.2,649.5 801.8,649.8 804.4,649.9 807.0,651.2 809.6,641.7 812.2,648.9 814.8,645.8 817.4,644.1 820.0,641.0 822.6,638.5 825.2,642.8 827.8,643.7 830.4,646.1 833.0,642.3 835.6,650.1 838.2,647.8 840.8,644.8 843.4,642.8 846.0,641.9 848.6,641.1 851.2,643.3 853.8,645.5 856.4,644.3 859.0,640.7 861.6,643.4 864.2,642.8 866.8,647.3 869.4,653.1 872.0,649.3 874.6,644.2 877.2,639.1 879.8,638.6 882.4,639.6 885.0,646.7 887.6,643.9 890.2,645.2 892.8,643.9 895.4,646.9 898.0,650.4 900.6,644.4 903.2,643.7 905.8,643.6 908.4,647.7 911.0,642.2 913.6,640.3 916.2,639.3 918.8,640.4 921.4,648.5 921.9,654.6"/>
<polyline stroke="#F5EA2B" points="116.5,649.7 115.4,645.3 118.0,647.1 120.6,647.5 123.2,647.9 125.8,653.7 128.4,644.2 131.0,649.1 133.6,650.0 136.2,647.4 138.8,649.7 141.4,652.2 144.0,650.5 146.6,651.0 149.2,650.2 151.8,643.7 154.4,654.2 157.0,658.5 159.6,654.7 162.2,652.1 164.8,644.9 167.4,647.0 170.0,645.7 172.6,647.1 175.2,651.3 177.8,646.9 180.4,646.6 183.0,642.3 185.6,647.1 188.2,648.7 190.8,646.2 193.4,647.4 196.0,654.0 198.6,645.5 201.2,644.0 203.8,646.4 206.4,654.0 209.0,657.2 211.6,651.1 214.2,646.5 216.8,647.8 219.4,651.6 222.0,647.7 224.6,654.3 227.2,654.9 229.8,650.7 232.4,651.8 235.0,653.1 237.6,654.0 240.2,647.4 242.8,652.0 245.4,648.0 248.0,646.2 250.6,648.6 253.2,647.6 255.8,644.3 258.4,642.2 261.0,645.7 263.6,654.7 266.2,657.2 268.8,653.5 271.4,653.1 274.0,648.1 276.6,648.6 279.2,649.1 281.8,644.8 284.4,644.9 287.0,648.4 289.6,647.2 292.2,645.4 294.8,649.3 297.4,649.1 300.0,652.3 302.6,649.5 305.2,648.1 307.8,649.1 310.4,648.0 313.0,646.3 315.6,647.7 318.2,651.7 320.8,652.7 323.4,652.6 326.0,643.9 328.6,646.1 331.2,647.4 333.8,649.0 336.4,647.2 339.0,647.5 341.6,651.4 344.2,649.3 346.8,646.1 349.4,653.4 352.0,652.9 354.6,648.4 357.2,650.9 359.8,647.9 362.4,652.1 365.0,648.5 367.6,645.9 370.2,646.6 372.8,646.3 375.4,649.2 378.0,649.8 380.6,648.8 383.2,644.5 385.8,636.3 388.4,645.3 391.0,642.8 393.6,649.3 396.2,653.2 398.8,650.5 401.4,647.8 404.0,648.0 406.6,648.0 409.2,646.6 411.8,646.0 414.4,646.3 417.0,652.3 419.6,650.5 422.2,652.0 424.8,648.9 427.4,648.9 430.0,648.7 432.6,650.8 435.2,651.9 437.8,649.2 440.4,645.1 443.0,645.0 445.6,650.3 448.2,643.4 450.8,640.2 453.4,642.1 456.0,637.6 458.6,631.0 461.2,626.2 463.8,627.0 466.4,626.8 469.0,630.7 471.6,631.3 474.2,630.7 476.8,635.1 479.4,644.0 482.0,646.9 484.6,645.5 487.2,642.6 489.8,642.3 492.4,645.4 495.0,644.3 497.6,651.7 500.2,655.5 502.8,660.0 505.4,653.6 508.0,647.0 510.6,643.1 513.2,636.3 515.8,644.4 518.4,648.7 521.0,652.6 523.6,652.2 526.2,651.6 528.8,650.6 531.4,652.4 534.0,653.6 536.6,646.1 539.2,645.7 541.8,645.1 544.4,654.4 547.0,655.1 549.6,651.6 552.2,645.6 554.8,648.5 557.4,648.4 560.0,649.0 562.6,648.8 565.2,650.3 567.8,648.7 570.4,651.8 573.0,650.2 575.6,648.1 578.2,648.1 580.8,648.0 583.4,651.2 586.0,648.9 588.6,649.5 591.2,646.8 593.8,644.3 596.4,650.2 599.0,646.6 601.6,650.8 604.2,649.7 606.8,643.0 609.4,644.2 612.0,646.0 614.6,645.0 617.2,644.9 619.8,650.5 622.4,649.0 625.0,649.8 627.6,648.0 630.2,649.2 632.8,646.7 635.4,648.8 638.0,651.0 640.6,649.2 643.2,646.7 645.8,645.1 648.4,649.0 651.0,650.1 653.6,647.8 656.2,646.6 658.8,652.1 661.4,657.6 664.0,650.0 666.6,650.2 669.2,648.7 671.8,640.7 674.4,647.0 677.0,647.7 679.6,653.0 682.2,648.6 684.8,646.0 687.4,647.8 690.0,649.0 692.6,647.2 695.2,647.4 697.8,644.2 700.4,647.8 703.0,652.9 705.6,656.7 708.2,653.0 710.8,651.3 713.4,653.9 716.0,654.5 718.6,656.2 721.2,653.8 723.8,649.6 726.4,649.9 729.0,650.0 731.6,650.3 734.2,649.3 736.8,645.0 739.4,640.8 742.0,643.7 744.6,641.7 747.2,647.8 749.8,647.8 752.4,643.8 755.0,650.7 757.6,652.5 760.2,651.2 762.8,656.1 765.4,655.7 768.0,647.0 770.6,652.0 773.2,651.5 775.8,651.4 778.4,651.9 781.0,646.8 783.6,645.9 786.2,645.2 788.8,645.8 791.4,647.1 794.0,643.3 796.6,644.8 799.2,650.1 801.8,649.5 804.4,648.9 807.0,642.3 809.6,644.6 812.2,646.6 814.8,648.3 817.4,647.7 820.0,651.7 822.6,649.5 825.2,649.0 827.8,649.6 830.4,651.1 833.0,648.7 835.6,652.8 838.2,651.5 840.8,649.9 843.4,649.6 846.0,651.5 848.6,653.5 851.2,653.2 853.8,651.6 856.4,652.3 859.0,650.9 861.6,653.3 864.2,648.3 866.8,642.9 869.4,652.1 872.0,649.5 874.6,645.0 877.2,646.8 879.8,647.4 882.4,655.8 885.0,651.1 887.6,644.4 890.2,649.4 892.8,649.4 895.4,654.4 898.0,645.2 900.6,640.7 903.2,647.3 905.8,647.6 908.4,645.8 911.0,641.8 913.6,650.1 916.2,653.6 918.8,644.6 921.4,651.2 921.9,649.6"/>
</g>
<rect x="115.0" y="38.5" width="808.4" height="627.1" stroke-width="2.9" stroke="#000" fill="none"/>
<path d="M756.7,73.20 H825.1" stroke="#E12B26" stroke-width="6.5"/>
<text x="833.05" y="85.97" font-size="32.96" fill="#000">2. 5</text>
<path d="M0.3707,-0.688 L0.3707,0 L0.2785,0 L0.2785,-0.5225 C0.22,-0.48 0.17,-0.45 0.113,-0.4303 L0.113,-0.5225 C0.20,-0.555 0.27,-0.61 0.308,-0.688 Z" fill="#000" transform="translate(860.54,85.97) scale(32.958)"/>
<path d="M756.7,112.03 H825.1" stroke="#EC4524" stroke-width="6.5"/>
<text x="830.98" y="124.34" font-size="32.96" fill="#000"> .92</text>
<path d="M0.3707,-0.688 L0.3707,0 L0.2785,0 L0.2785,-0.5225 C0.22,-0.48 0.17,-0.45 0.113,-0.4303 L0.113,-0.5225 C0.20,-0.555 0.27,-0.61 0.308,-0.688 Z" fill="#000" transform="translate(830.98,124.34) scale(32.958)"/>
<path d="M756.7,150.86 H825.1" stroke="#F06524" stroke-width="6.5"/>
<text x="830.98" y="162.71" font-size="32.96" fill="#000"> .69</text>
<path d="M0.3707,-0.688 L0.3707,0 L0.2785,0 L0.2785,-0.5225 C0.22,-0.48 0.17,-0.45 0.113,-0.4303 L0.113,-0.5225 C0.20,-0.555 0.27,-0.61 0.308,-0.688 Z" fill="#000" transform="translate(830.98,162.71) scale(32.958)"/>
<path d="M756.7,189.69 H825.1" stroke="#F58322" stroke-width="6.5"/>
<text x="830.92" y="201.41" font-size="33.43" fill="#000"> .42</text>
<path d="M0.3707,-0.688 L0.3707,0 L0.2785,0 L0.2785,-0.5225 C0.22,-0.48 0.17,-0.45 0.113,-0.4303 L0.113,-0.5225 C0.20,-0.555 0.27,-0.61 0.308,-0.688 Z" fill="#000" transform="translate(830.92,201.41) scale(33.429)"/>
<path d="M756.7,228.52 H825.1" stroke="#F8A11F" stroke-width="6.5"/>
<text x="830.92" y="239.45" font-size="33.43" fill="#000"> . 5</text>
<path d="M0.3707,-0.688 L0.3707,0 L0.2785,0 L0.2785,-0.5225 C0.22,-0.48 0.17,-0.45 0.113,-0.4303 L0.113,-0.5225 C0.20,-0.555 0.27,-0.61 0.308,-0.688 Z" fill="#000" transform="translate(830.92,239.45) scale(33.429)"/>
<path d="M0.3707,-0.688 L0.3707,0 L0.2785,0 L0.2785,-0.5225 C0.22,-0.48 0.17,-0.45 0.113,-0.4303 L0.113,-0.5225 C0.20,-0.555 0.27,-0.61 0.308,-0.688 Z" fill="#000" transform="translate(858.80,239.45) scale(33.429)"/>
<path d="M756.7,267.35 H825.1" stroke="#FDBE22" stroke-width="6.5"/>
<text x="833.38" y="277.82" font-size="32.96" fill="#000">0.89</text>
<path d="M756.7,306.18 H825.1" stroke="#FBDC25" stroke-width="6.5"/>
<text x="833.38" y="316.19" font-size="32.96" fill="#000">0.62</text>
<path d="M756.7,345.01 H825.1" stroke="#F5EA2B" stroke-width="6.5"/>
<text x="833.38" y="354.56" font-size="32.96" fill="#000">0.35</text>
<text x="775.89" y="395.68" font-size="32.46" fill="#000">mW/μm²</text>
<text x="89.37" y="59.58" font-size="41.71" fill="#000">5</text>
<text x="88.62" y="171.00" font-size="42.32" fill="#000">4</text>
<text x="89.64" y="291.09" font-size="41.13" fill="#000">3</text>
<text x="88.91" y="407.60" font-size="41.57" fill="#000">2</text>
<path d="M0.3707,-0.688 L0.3707,0 L0.2785,0 L0.2785,-0.5225 C0.22,-0.48 0.17,-0.45 0.113,-0.4303 L0.113,-0.5225 C0.20,-0.555 0.27,-0.61 0.308,-0.688 Z" fill="#000" transform="translate(92.80,528.70) scale(43.169)"/>
<text x="89.49" y="647.48" font-size="41.83" fill="#000">0</text>
<text x="82.77" y="705.28" font-size="41.55" fill="#000">450</text>
<text x="347.46" y="705.28" font-size="41.55" fill="#000">500</text>
<text x="617.46" y="705.28" font-size="41.55" fill="#000">550</text>
<text x="885.95" y="705.28" font-size="41.55" fill="#000">600</text>
<text x="377.38" y="765.43" font-size="44.39" fill="#000">Wavelength (nm)</text>
<text x="0" y="0" font-size="44.28" transform="translate(53.88,409.91) rotate(-90)">Counts</text>
<text x="-0.62" y="35.46" font-size="42.57" font-weight="bold" fill="#000">(a)</text>
<text x="123.39" y="32.79" font-size="40.99" fill="#000">x 0</text>
<path d="M0.3707,-0.688 L0.3707,0 L0.2785,0 L0.2785,-0.5225 C0.22,-0.48 0.17,-0.45 0.113,-0.4303 L0.113,-0.5225 C0.20,-0.555 0.27,-0.61 0.308,-0.688 Z" fill="#000" transform="translate(143.88,32.79) scale(40.986)"/>
<text x="188.49" y="20.17" font-size="22.81" font-weight="bold" fill="#000">3</text>
<g fill="#F26A2D">
<circle cx="224.8" cy="1446" r="11.8"/>
<circle cx="311.8" cy="1418.6" r="11.8"/>
<circle cx="398.5" cy="1380" r="11.8"/>
<circle cx="482.5" cy="1320" r="11.8"/>
<circle cx="573.5" cy="1262.5" r="11.8"/>
<circle cx="660" cy="1185" r="11.8"/>
<circle cx="736" cy="1126.5" r="11.8"/>
<circle cx="811" cy="996.8" r="11.8"/>
</g>
<polyline fill="none" stroke="#5D51A2" stroke-width="5.4" points="225.2,1443.5 230.1,1442.4 235.0,1441.3 239.9,1440.2 244.8,1439.0 249.7,1437.8 254.6,1436.5 259.5,1435.2 264.5,1433.8 269.4,1432.4 274.3,1431.0 279.2,1429.5 284.1,1428.0 289.0,1426.4 293.9,1424.8 298.8,1423.1 303.7,1421.4 308.7,1419.6 313.6,1417.8 318.5,1416.0 323.4,1414.1 328.3,1412.2 333.2,1410.2 338.1,1408.2 343.0,1406.1 347.9,1404.0 352.9,1401.9 357.8,1399.7 362.7,1397.5 367.6,1395.2 372.5,1392.9 377.4,1390.5 382.3,1388.1 387.2,1385.7 392.1,1383.2 397.1,1380.6 402.0,1378.0 406.9,1375.4 411.8,1372.7 416.7,1370.0 421.6,1367.3 426.5,1364.5 431.4,1361.6 436.3,1358.8 441.3,1355.8 446.2,1352.8 451.1,1349.8 456.0,1346.8 460.9,1343.7 465.8,1340.5 470.7,1337.3 475.6,1334.1 480.5,1330.8 485.5,1327.5 490.4,1324.1 495.3,1320.7 500.2,1317.2 505.1,1313.7 510.0,1310.2 514.9,1306.6 519.8,1303.0 524.7,1299.3 529.7,1295.6 534.6,1291.8 539.5,1288.0 544.4,1284.2 549.3,1280.3 554.2,1276.4 559.1,1272.4 564.0,1268.4 568.9,1264.3 573.9,1260.2 578.8,1256.0 583.7,1251.8 588.6,1247.6 593.5,1243.3 598.4,1239.0 603.3,1234.6 608.2,1230.2 613.1,1225.7 618.1,1221.2 623.0,1216.7 627.9,1212.1 632.8,1207.5 637.7,1202.8 642.6,1198.1 647.5,1193.3 652.4,1188.5 657.3,1183.7 662.3,1178.8 667.2,1173.8 672.1,1168.8 677.0,1163.8 681.9,1158.7 686.8,1153.6 691.7,1148.5 696.6,1143.3 701.5,1138.0 706.5,1132.7 711.4,1127.4 716.3,1122.0 721.2,1116.6 726.1,1111.2 731.0,1105.6 735.9,1100.1 740.8,1094.5 745.7,1088.9 750.7,1083.2 755.6,1077.5 760.5,1071.7 765.4,1065.9 770.3,1060.0 775.2,1054.1 780.1,1048.2 785.0,1042.2 789.9,1036.2 794.9,1030.1 799.8,1024.0 804.7,1017.8 809.6,1011.6"/>
<g stroke="#000" fill="none">
<rect x="109.0" y="832.6" width="813.5" height="623.1" stroke-width="2.6"/>
<path d="M271.70,1455.7 v-8.5 M271.70,832.6 v8.5" stroke-width="2.2"/>
<path d="M434.40,1455.7 v-8.5 M434.40,832.6 v8.5" stroke-width="2.2"/>
<path d="M597.10,1455.7 v-8.5 M597.10,832.6 v8.5" stroke-width="2.2"/>
<path d="M759.80,1455.7 v-8.5 M759.80,832.6 v8.5" stroke-width="2.2"/>
<path d="M109.0,1299.92 h8.5 M922.5,1299.92 h-8.5" stroke-width="2.2"/>
<path d="M109.0,1144.15 h8.5 M922.5,1144.15 h-8.5" stroke-width="2.2"/>
<path d="M109.0,988.38 h8.5 M922.5,988.38 h-8.5" stroke-width="2.2"/>
</g>
<rect x="180.2" y="879.0" width="249.10000000000002" height="402.0" fill="#fff" stroke="none"/>
<g fill="#F26A2D">
<circle cx="180.20" cy="1168.1" r="6.6"/>
<circle cx="258.66" cy="1093.5" r="6.6"/>
<circle cx="308.27" cy="1054" r="6.6"/>
<circle cx="343.44" cy="1020.5" r="6.6"/>
<circle cx="372.38" cy="999" r="6.6"/>
<circle cx="396.26" cy="980.5" r="6.6"/>
<circle cx="413.77" cy="969" r="6.6"/>
<circle cx="429.30" cy="949.5" r="6.6"/>
</g>
<path d="M180.5,1163.7 L428.1,952" stroke="#5D51A2" stroke-width="3.2" fill="none"/>
<g stroke="#000" fill="none">
<rect x="180.2" y="879.0" width="249.10000000000002" height="402.0" stroke-width="3"/>
<path d="M198.52,1281.0 v-3.3 M198.52,879.0 v3.3" stroke-width="1.6"/>
<path d="M229.14,1281.0 v-5 M229.14,879.0 v5" stroke-width="1.6"/>
<path d="M254.16,1281.0 v-3.3 M254.16,879.0 v3.3" stroke-width="1.6"/>
<path d="M275.32,1281.0 v-3.3 M275.32,879.0 v3.3" stroke-width="1.6"/>
<path d="M293.64,1281.0 v-3.3 M293.64,879.0 v3.3" stroke-width="1.6"/>
<path d="M309.80,1281.0 v-3.3 M309.80,879.0 v3.3" stroke-width="1.6"/>
<path d="M324.26,1281.0 v-5 M324.26,879.0 v5" stroke-width="1.6"/>
<path d="M337.34,1281.0 v-3.3 M337.34,879.0 v3.3" stroke-width="1.6"/>
<path d="M349.28,1281.0 v-3.3 M349.28,879.0 v3.3" stroke-width="1.6"/>
<path d="M360.26,1281.0 v-3.3 M360.26,879.0 v3.3" stroke-width="1.6"/>
<path d="M370.43,1281.0 v-3.3 M370.43,879.0 v3.3" stroke-width="1.6"/>
<path d="M379.90,1281.0 v-5 M379.90,879.0 v5" stroke-width="1.6"/>
<path d="M388.76,1281.0 v-3.3 M388.76,879.0 v3.3" stroke-width="1.6"/>
<path d="M397.07,1281.0 v-3.3 M397.07,879.0 v3.3" stroke-width="1.6"/>
<path d="M404.92,1281.0 v-3.3 M404.92,879.0 v3.3" stroke-width="1.6"/>
<path d="M412.34,1281.0 v-3.3 M412.34,879.0 v3.3" stroke-width="1.6"/>
<path d="M419.38,1281.0 v-5 M419.38,879.0 v5" stroke-width="1.6"/>
<path d="M426.07,1281.0 v-3.3 M426.07,879.0 v3.3" stroke-width="1.6"/>
<path d="M180.2,1241.68 h3.3 M429.3,1241.68 h-3.3" stroke-width="1.6"/>
<path d="M180.2,1217.98 h3.3 M429.3,1217.98 h-3.3" stroke-width="1.6"/>
<path d="M180.2,1201.16 h3.3 M429.3,1201.16 h-3.3" stroke-width="1.6"/>
<path d="M180.2,1188.12 h3.3 M429.3,1188.12 h-3.3" stroke-width="1.6"/>
<path d="M180.2,1177.46 h3.3 M429.3,1177.46 h-3.3" stroke-width="1.6"/>
<path d="M180.2,1168.45 h3.3 M429.3,1168.45 h-3.3" stroke-width="1.6"/>
<path d="M180.2,1160.64 h3.3 M429.3,1160.64 h-3.3" stroke-width="1.6"/>
<path d="M180.2,1153.76 h3.3 M429.3,1153.76 h-3.3" stroke-width="1.6"/>
<path d="M180.2,1147.60 h5.5 M429.3,1147.60 h-5.5" stroke-width="1.6"/>
<path d="M180.2,1107.08 h3.3 M429.3,1107.08 h-3.3" stroke-width="1.6"/>
<path d="M180.2,1083.38 h3.3 M429.3,1083.38 h-3.3" stroke-width="1.6"/>
<path d="M180.2,1066.56 h3.3 M429.3,1066.56 h-3.3" stroke-width="1.6"/>
<path d="M180.2,1053.52 h3.3 M429.3,1053.52 h-3.3" stroke-width="1.6"/>
<path d="M180.2,1042.86 h3.3 M429.3,1042.86 h-3.3" stroke-width="1.6"/>
<path d="M180.2,1033.85 h3.3 M429.3,1033.85 h-3.3" stroke-width="1.6"/>
<path d="M180.2,1026.04 h3.3 M429.3,1026.04 h-3.3" stroke-width="1.6"/>
<path d="M180.2,1019.16 h3.3 M429.3,1019.16 h-3.3" stroke-width="1.6"/>
<path d="M180.2,1013.00 h5.5 M429.3,1013.00 h-5.5" stroke-width="1.6"/>
<path d="M180.2,972.48 h3.3 M429.3,972.48 h-3.3" stroke-width="1.6"/>
<path d="M180.2,948.78 h3.3 M429.3,948.78 h-3.3" stroke-width="1.6"/>
<path d="M180.2,931.96 h3.3 M429.3,931.96 h-3.3" stroke-width="1.6"/>
<path d="M180.2,918.92 h3.3 M429.3,918.92 h-3.3" stroke-width="1.6"/>
<path d="M180.2,908.26 h3.3 M429.3,908.26 h-3.3" stroke-width="1.6"/>
<path d="M180.2,899.25 h3.3 M429.3,899.25 h-3.3" stroke-width="1.6"/>
<path d="M180.2,891.44 h3.3 M429.3,891.44 h-3.3" stroke-width="1.6"/>
<path d="M180.2,884.56 h3.3 M429.3,884.56 h-3.3" stroke-width="1.6"/>
</g>
<text x="187.44" y="913.17" font-size="32.51" fill="#000">Slope≈2.02</text>
<text x="423.76" y="889.93" font-size="36.62" fill="#000"> 0</text>
<path d="M0.3707,-0.688 L0.3707,0 L0.2785,0 L0.2785,-0.5225 C0.22,-0.48 0.17,-0.45 0.113,-0.4303 L0.113,-0.5225 C0.20,-0.555 0.27,-0.61 0.308,-0.688 Z" fill="#000" transform="translate(423.76,889.93) scale(36.620)"/>
<text x="466.07" y="878.30" font-size="20.29" font-weight="bold" fill="#000">5</text>
<text x="428.31" y="1022.53" font-size="37.04" fill="#000"> 0</text>
<path d="M0.3707,-0.688 L0.3707,0 L0.2785,0 L0.2785,-0.5225 C0.22,-0.48 0.17,-0.45 0.113,-0.4303 L0.113,-0.5225 C0.20,-0.555 0.27,-0.61 0.308,-0.688 Z" fill="#000" transform="translate(428.31,1022.53) scale(37.042)"/>
<text x="469.79" y="1011.00" font-size="19.86" font-weight="bold" fill="#000">4</text>
<text x="428.31" y="1157.33" font-size="37.04" fill="#000"> 0</text>
<path d="M0.3707,-0.688 L0.3707,0 L0.2785,0 L0.2785,-0.5225 C0.22,-0.48 0.17,-0.45 0.113,-0.4303 L0.113,-0.5225 C0.20,-0.555 0.27,-0.61 0.308,-0.688 Z" fill="#000" transform="translate(428.31,1157.33) scale(37.042)"/>
<text x="470.18" y="1144.81" font-size="19.15" font-weight="bold" fill="#000">3</text>
<text x="0" y="0" font-size="36.30" transform="translate(518.78,1129.22) rotate(-90)">Counts</text>
<text x="203.01" y="1307.09" font-size="30.70" fill="#000">0.5</text>
<path d="M0.3707,-0.688 L0.3707,0 L0.2785,0 L0.2785,-0.5225 C0.22,-0.48 0.17,-0.45 0.113,-0.4303 L0.113,-0.5225 C0.20,-0.555 0.27,-0.61 0.308,-0.688 Z" fill="#000" transform="translate(314.59,1307.40) scale(31.686)"/>
<text x="357.57" y="1307.09" font-size="31.14" fill="#000"> .5</text>
<path d="M0.3707,-0.688 L0.3707,0 L0.2785,0 L0.2785,-0.5225 C0.22,-0.48 0.17,-0.45 0.113,-0.4303 L0.113,-0.5225 C0.20,-0.555 0.27,-0.61 0.308,-0.688 Z" fill="#000" transform="translate(357.57,1307.09) scale(31.143)"/>
<text x="410.01" y="1307.40" font-size="31.14" fill="#000">2</text>
<text x="181.70" y="1338.23" font-size="36.25" fill="#000">Beam Intensity</text>
<text x="215.60" y="1375.93" font-size="36.61" fill="#000">(mW/μm²)</text>
<text x="76.79" y="843.70" font-size="42.61" fill="#000">4</text>
<text x="75.41" y="996.17" font-size="42.68" fill="#000">3</text>
<text x="76.09" y="1155.20" font-size="42.00" fill="#000">2</text>
<path d="M0.3707,-0.688 L0.3707,0 L0.2785,0 L0.2785,-0.5225 C0.22,-0.48 0.17,-0.45 0.113,-0.4303 L0.113,-0.5225 C0.20,-0.555 0.27,-0.61 0.308,-0.688 Z" fill="#000" transform="translate(80.36,1314.00) scale(42.733)"/>
<text x="75.29" y="1458.78" font-size="41.83" fill="#000">0</text>
<text x="95.95" y="1495.18" font-size="41.97" fill="#000">0</text>
<text x="240.18" y="1495.18" font-size="41.97" fill="#000">0.5</text>
<path d="M0.3707,-0.688 L0.3707,0 L0.2785,0 L0.2785,-0.5225 C0.22,-0.48 0.17,-0.45 0.113,-0.4303 L0.113,-0.5225 C0.20,-0.555 0.27,-0.61 0.308,-0.688 Z" fill="#000" transform="translate(419.74,1495.60) scale(43.314)"/>
<text x="566.86" y="1495.17" font-size="42.57" fill="#000"> .5</text>
<path d="M0.3707,-0.688 L0.3707,0 L0.2785,0 L0.2785,-0.5225 C0.22,-0.48 0.17,-0.45 0.113,-0.4303 L0.113,-0.5225 C0.20,-0.555 0.27,-0.61 0.308,-0.688 Z" fill="#000" transform="translate(566.86,1495.17) scale(42.571)"/>
<text x="747.44" y="1495.60" font-size="42.57" fill="#000">2</text>
<text x="888.82" y="1495.18" font-size="41.97" fill="#000">2.5</text>
<text x="277.16" y="1546.95" font-size="44.29" fill="#000">Beam Intensity (mW/μm²)</text>
<text x="0" y="0" font-size="44.44" transform="translate(43.83,1208.42) rotate(-90)">Counts</text>
<text x="-0.11" y="826.91" font-size="42.35" font-weight="bold" fill="#000">(b)</text>
<text x="110.79" y="824.19" font-size="41.41" fill="#000">x 0</text>
<path d="M0.3707,-0.688 L0.3707,0 L0.2785,0 L0.2785,-0.5225 C0.22,-0.48 0.17,-0.45 0.113,-0.4303 L0.113,-0.5225 C0.20,-0.555 0.27,-0.61 0.308,-0.688 Z" fill="#000" transform="translate(131.49,824.19) scale(41.408)"/>
<text x="176.09" y="810.60" font-size="22.32" font-weight="bold" fill="#000">4</text>
<g stroke="#000" fill="none">
<path d="M245.58,2229.5 v-8.5 M245.58,1587.6 v8.5" stroke-width="2.3"/>
<path d="M381.17,2229.5 v-8.5 M381.17,1587.6 v8.5" stroke-width="2.3"/>
<path d="M516.75,2229.5 v-8.5 M516.75,1587.6 v8.5" stroke-width="2.3"/>
<path d="M652.33,2229.5 v-8.5 M652.33,1587.6 v8.5" stroke-width="2.3"/>
<path d="M787.92,2229.5 v-8.5 M787.92,1587.6 v8.5" stroke-width="2.3"/>
<path d="M110.0,2121.45 h9 M923.5,2121.45 h-9" stroke-width="2.3"/>
<path d="M110.0,2014.30 h9 M923.5,2014.30 h-9" stroke-width="2.3"/>
<path d="M110.0,1907.15 h9 M923.5,1907.15 h-9" stroke-width="2.3"/>
<path d="M110.0,1800.00 h9 M923.5,1800.00 h-9" stroke-width="2.3"/>
<path d="M110.0,1692.85 h9 M923.5,1692.85 h-9" stroke-width="2.3"/>
<path d="M110.0,2227.0 h9 M923.5,2227.0 h-9" stroke-width="2.3"/>
</g>
<g fill="#E82127">
<circle cx="119.0" cy="1880.1" r="10.6"/>
<circle cx="123.6" cy="1876.6" r="10.6"/>
<circle cx="128.1" cy="1876.8" r="10.6"/>
<circle cx="132.6" cy="1873.5" r="10.6"/>
<circle cx="137.1" cy="1869.1" r="10.6"/>
<circle cx="141.6" cy="1869.9" r="10.6"/>
<circle cx="146.2" cy="1866.0" r="10.6"/>
<circle cx="150.7" cy="1863.0" r="10.6"/>
<circle cx="155.2" cy="1870.2" r="10.6"/>
<circle cx="159.7" cy="1866.0" r="10.6"/>
<circle cx="164.2" cy="1866.2" r="10.6"/>
<circle cx="168.8" cy="1868.8" r="10.6"/>
<circle cx="173.3" cy="1865.6" r="10.6"/>
<circle cx="177.8" cy="1866.8" r="10.6"/>
<circle cx="182.3" cy="1869.8" r="10.6"/>
<circle cx="186.8" cy="1871.1" r="10.6"/>
<circle cx="191.4" cy="1872.5" r="10.6"/>
<circle cx="195.9" cy="1874.5" r="10.6"/>
<circle cx="200.4" cy="1870.6" r="10.6"/>
<circle cx="204.9" cy="1871.8" r="10.6"/>
<circle cx="209.4" cy="1871.2" r="10.6"/>
<circle cx="213.9" cy="1867.1" r="10.6"/>
<circle cx="218.5" cy="1869.0" r="10.6"/>
<circle cx="223.0" cy="1866.4" r="10.6"/>
<circle cx="227.5" cy="1870.6" r="10.6"/>
<circle cx="232.0" cy="1869.6" r="10.6"/>
<circle cx="236.5" cy="1870.3" r="10.6"/>
<circle cx="241.1" cy="1869.2" r="10.6"/>
<circle cx="245.6" cy="1873.7" r="10.6"/>
<circle cx="250.1" cy="1873.6" r="10.6"/>
<circle cx="254.6" cy="1877.5" r="10.6"/>
<circle cx="259.1" cy="1876.8" r="10.6"/>
<circle cx="263.7" cy="1876.9" r="10.6"/>
<circle cx="268.2" cy="1881.6" r="10.6"/>
<circle cx="272.7" cy="1883.2" r="10.6"/>
<circle cx="277.2" cy="1882.5" r="10.6"/>
<circle cx="281.7" cy="1888.0" r="10.6"/>
<circle cx="286.3" cy="1885.8" r="10.6"/>
<circle cx="290.8" cy="1885.9" r="10.6"/>
<circle cx="295.3" cy="1884.4" r="10.6"/>
<circle cx="299.8" cy="1880.3" r="10.6"/>
<circle cx="304.3" cy="1878.6" r="10.6"/>
<circle cx="308.9" cy="1877.1" r="10.6"/>
<circle cx="313.4" cy="1879.8" r="10.6"/>
<circle cx="317.9" cy="1879.4" r="10.6"/>
<circle cx="322.4" cy="1875.1" r="10.6"/>
<circle cx="326.9" cy="1878.2" r="10.6"/>
<circle cx="331.5" cy="1876.9" r="10.6"/>
<circle cx="336.0" cy="1879.9" r="10.6"/>
<circle cx="340.5" cy="1883.2" r="10.6"/>
<circle cx="345.0" cy="1884.3" r="10.6"/>
<circle cx="349.5" cy="1890.2" r="10.6"/>
<circle cx="354.0" cy="1886.9" r="10.6"/>
<circle cx="358.6" cy="1885.1" r="10.6"/>
<circle cx="363.1" cy="1891.2" r="10.6"/>
<circle cx="367.6" cy="1888.6" r="10.6"/>
<circle cx="372.1" cy="1886.8" r="10.6"/>
<circle cx="376.6" cy="1878.0" r="10.6"/>
<circle cx="381.2" cy="1882.5" r="10.6"/>
<circle cx="385.7" cy="1882.7" r="10.6"/>
<circle cx="390.2" cy="1883.4" r="10.6"/>
<circle cx="394.7" cy="1884.5" r="10.6"/>
<circle cx="399.2" cy="1884.5" r="10.6"/>
<circle cx="403.8" cy="1880.4" r="10.6"/>
<circle cx="408.3" cy="1881.8" r="10.6"/>
<circle cx="412.8" cy="1877.6" r="10.6"/>
<circle cx="417.3" cy="1877.6" r="10.6"/>
<circle cx="421.8" cy="1879.0" r="10.6"/>
<circle cx="426.4" cy="1876.6" r="10.6"/>
<circle cx="430.9" cy="1874.0" r="10.6"/>
<circle cx="435.4" cy="1878.3" r="10.6"/>
<circle cx="439.9" cy="1878.1" r="10.6"/>
<circle cx="444.4" cy="1877.2" r="10.6"/>
<circle cx="449.0" cy="1880.1" r="10.6"/>
<circle cx="453.5" cy="1878.8" r="10.6"/>
<circle cx="458.0" cy="1876.9" r="10.6"/>
<circle cx="462.5" cy="1879.6" r="10.6"/>
<circle cx="467.0" cy="1887.1" r="10.6"/>
<circle cx="471.6" cy="1882.3" r="10.6"/>
<circle cx="476.1" cy="1885.0" r="10.6"/>
<circle cx="480.6" cy="1884.2" r="10.6"/>
<circle cx="485.1" cy="1881.8" r="10.6"/>
<circle cx="489.6" cy="1875.5" r="10.6"/>
<circle cx="494.2" cy="1874.8" r="10.6"/>
<circle cx="498.7" cy="1876.6" r="10.6"/>
<circle cx="503.2" cy="1878.6" r="10.6"/>
<circle cx="507.7" cy="1876.2" r="10.6"/>
<circle cx="512.2" cy="1873.3" r="10.6"/>
<circle cx="516.8" cy="1876.4" r="10.6"/>
<circle cx="521.3" cy="1877.3" r="10.6"/>
<circle cx="525.8" cy="1876.5" r="10.6"/>
<circle cx="530.3" cy="1876.9" r="10.6"/>
<circle cx="534.8" cy="1881.2" r="10.6"/>
<circle cx="539.3" cy="1882.9" r="10.6"/>
<circle cx="543.9" cy="1886.6" r="10.6"/>
<circle cx="548.4" cy="1883.3" r="10.6"/>
<circle cx="552.9" cy="1886.8" r="10.6"/>
<circle cx="557.4" cy="1886.7" r="10.6"/>
<circle cx="561.9" cy="1885.0" r="10.6"/>
<circle cx="566.5" cy="1887.8" r="10.6"/>
<circle cx="571.0" cy="1887.6" r="10.6"/>
<circle cx="575.5" cy="1886.2" r="10.6"/>
<circle cx="580.0" cy="1886.6" r="10.6"/>
<circle cx="584.5" cy="1881.7" r="10.6"/>
<circle cx="589.1" cy="1882.5" r="10.6"/>
<circle cx="593.6" cy="1882.1" r="10.6"/>
<circle cx="598.1" cy="1880.9" r="10.6"/>
<circle cx="602.6" cy="1881.7" r="10.6"/>
<circle cx="607.1" cy="1876.5" r="10.6"/>
<circle cx="611.7" cy="1874.9" r="10.6"/>
<circle cx="616.2" cy="1877.0" r="10.6"/>
<circle cx="620.7" cy="1876.5" r="10.6"/>
<circle cx="625.2" cy="1880.1" r="10.6"/>
<circle cx="629.7" cy="1878.1" r="10.6"/>
<circle cx="634.3" cy="1876.2" r="10.6"/>
<circle cx="638.8" cy="1880.7" r="10.6"/>
<circle cx="643.3" cy="1878.6" r="10.6"/>
<circle cx="647.8" cy="1878.5" r="10.6"/>
<circle cx="652.3" cy="1887.1" r="10.6"/>
<circle cx="656.9" cy="1882.9" r="10.6"/>
<circle cx="661.4" cy="1884.0" r="10.6"/>
<circle cx="665.9" cy="1884.1" r="10.6"/>
<circle cx="670.4" cy="1888.2" r="10.6"/>
<circle cx="674.9" cy="1884.7" r="10.6"/>
<circle cx="679.4" cy="1886.0" r="10.6"/>
<circle cx="684.0" cy="1881.6" r="10.6"/>
<circle cx="688.5" cy="1881.9" r="10.6"/>
<circle cx="693.0" cy="1888.0" r="10.6"/>
<circle cx="697.5" cy="1888.7" r="10.6"/>
<circle cx="702.0" cy="1887.3" r="10.6"/>
<circle cx="706.6" cy="1886.6" r="10.6"/>
<circle cx="711.1" cy="1886.4" r="10.6"/>
<circle cx="715.6" cy="1884.6" r="10.6"/>
<circle cx="720.1" cy="1889.0" r="10.6"/>
<circle cx="724.6" cy="1887.5" r="10.6"/>
<circle cx="729.2" cy="1887.5" r="10.6"/>
<circle cx="733.7" cy="1887.5" r="10.6"/>
<circle cx="738.2" cy="1889.2" r="10.6"/>
<circle cx="742.7" cy="1888.4" r="10.6"/>
<circle cx="747.2" cy="1888.8" r="10.6"/>
<circle cx="751.8" cy="1884.8" r="10.6"/>
<circle cx="756.3" cy="1887.9" r="10.6"/>
<circle cx="760.8" cy="1891.3" r="10.6"/>
<circle cx="765.3" cy="1886.7" r="10.6"/>
<circle cx="769.8" cy="1888.8" r="10.6"/>
<circle cx="774.4" cy="1892.0" r="10.6"/>
<circle cx="778.9" cy="1892.6" r="10.6"/>
<circle cx="783.4" cy="1890.6" r="10.6"/>
<circle cx="787.9" cy="1884.7" r="10.6"/>
<circle cx="792.4" cy="1887.5" r="10.6"/>
<circle cx="797.0" cy="1883.9" r="10.6"/>
<circle cx="801.5" cy="1885.1" r="10.6"/>
<circle cx="806.0" cy="1888.7" r="10.6"/>
<circle cx="810.5" cy="1887.8" r="10.6"/>
<circle cx="815.0" cy="1890.0" r="10.6"/>
<circle cx="819.6" cy="1893.3" r="10.6"/>
<circle cx="824.1" cy="1886.9" r="10.6"/>
<circle cx="828.6" cy="1885.3" r="10.6"/>
<circle cx="833.1" cy="1881.0" r="10.6"/>
<circle cx="837.6" cy="1882.8" r="10.6"/>
<circle cx="842.1" cy="1883.3" r="10.6"/>
<circle cx="846.7" cy="1885.6" r="10.6"/>
<circle cx="851.2" cy="1885.4" r="10.6"/>
<circle cx="855.7" cy="1887.1" r="10.6"/>
<circle cx="860.2" cy="1889.1" r="10.6"/>
<circle cx="864.7" cy="1888.7" r="10.6"/>
<circle cx="869.3" cy="1886.8" r="10.6"/>
<circle cx="873.8" cy="1885.5" r="10.6"/>
<circle cx="878.3" cy="1887.6" r="10.6"/>
<circle cx="882.8" cy="1885.5" r="10.6"/>
<circle cx="887.3" cy="1885.7" r="10.6"/>
<circle cx="891.9" cy="1884.1" r="10.6"/>
<circle cx="896.4" cy="1881.6" r="10.6"/>
<circle cx="900.9" cy="1886.0" r="10.6"/>
<circle cx="905.4" cy="1884.4" r="10.6"/>
<circle cx="909.9" cy="1894.1" r="10.6"/>
<circle cx="914.5" cy="1893.1" r="10.6"/>
<circle cx="919.0" cy="1890.6" r="10.6"/>
<circle cx="923.5" cy="1889.0" r="10.6"/>
<circle cx="321.8" cy="1914.9" r="10.6"/>
<circle cx="119.0" cy="1862.1" r="10.6"/>
<circle cx="139.6" cy="1850.5" r="10.6"/>
<circle cx="155.3" cy="1846.4" r="10.6"/>
<circle cx="176.8" cy="1851.4" r="10.6"/>
<circle cx="187.5" cy="1857.2" r="10.6"/>
<circle cx="213.9" cy="1856.3" r="10.6"/>
<circle cx="232.1" cy="1855.5" r="10.6"/>
<circle cx="250.3" cy="1866.2" r="10.6"/>
<circle cx="268.2" cy="1871.2" r="10.6"/>
<circle cx="283.0" cy="1879.5" r="10.6"/>
<circle cx="302.8" cy="1876.2" r="10.6"/>
<circle cx="314.4" cy="1875.4" r="10.6"/>
<circle cx="326.8" cy="1866.2" r="10.6"/>
<circle cx="349.1" cy="1876.2" r="10.6"/>
<circle cx="367.2" cy="1880.3" r="10.6"/>
<circle cx="381.3" cy="1864.6" r="10.6"/>
<circle cx="395.3" cy="1875.3" r="10.6"/>
<circle cx="406.9" cy="1870.3" r="10.6"/>
<circle cx="425.6" cy="1860.5" r="10.6"/>
<circle cx="441.3" cy="1868.7" r="10.6"/>
<circle cx="457.8" cy="1870.4" r="10.6"/>
<circle cx="472.7" cy="1881.1" r="10.6"/>
<circle cx="494.1" cy="1864.6" r="10.6"/>
<circle cx="507.3" cy="1874.5" r="10.6"/>
<circle cx="525.5" cy="1867.9" r="10.6"/>
<circle cx="551.9" cy="1877.8" r="10.6"/>
<circle cx="573.1" cy="1882.0" r="10.6"/>
<circle cx="591.3" cy="1874.5" r="10.6"/>
<circle cx="609.4" cy="1875.3" r="10.6"/>
<circle cx="626.0" cy="1870.4" r="10.6"/>
<circle cx="647.4" cy="1872.0" r="10.6"/>
<circle cx="666.4" cy="1865.4" r="10.6"/>
<circle cx="687.0" cy="1872.0" r="10.6"/>
<circle cx="705.2" cy="1872.8" r="10.6"/>
<circle cx="724.8" cy="1877.8" r="10.6"/>
<circle cx="742.9" cy="1877.8" r="10.6"/>
<circle cx="762.7" cy="1874.5" r="10.6"/>
<circle cx="776.0" cy="1878.6" r="10.6"/>
<circle cx="800.7" cy="1876.2" r="10.6"/>
<circle cx="815.6" cy="1877.0" r="10.6"/>
<circle cx="832.9" cy="1865.4" r="10.6"/>
<circle cx="845.3" cy="1871.2" r="10.6"/>
<circle cx="869.1" cy="1877.4" r="10.6"/>
<circle cx="882.2" cy="1879.1" r="10.6"/>
<circle cx="897.0" cy="1875.8" r="10.6"/>
<circle cx="908.5" cy="1882.4" r="10.6"/>
<circle cx="920.0" cy="1882.4" r="10.6"/>
<circle cx="114.9" cy="1898.4" r="10.6"/>
<circle cx="128.9" cy="1891.8" r="10.6"/>
<circle cx="146.2" cy="1885.2" r="10.6"/>
<circle cx="172.7" cy="1886.9" r="10.6"/>
<circle cx="195.8" cy="1887.7" r="10.6"/>
<circle cx="220.5" cy="1880.3" r="10.6"/>
<circle cx="258.5" cy="1885.2" r="10.6"/>
<circle cx="263.2" cy="1886.9" r="10.6"/>
<circle cx="290.5" cy="1895.1" r="10.6"/>
<circle cx="311.1" cy="1877.0" r="10.6"/>
<circle cx="334.2" cy="1886.9" r="10.6"/>
<circle cx="345.8" cy="1893.5" r="10.6"/>
<circle cx="372.2" cy="1900.1" r="10.6"/>
<circle cx="398.6" cy="1888.5" r="10.6"/>
<circle cx="417.3" cy="1891.8" r="10.6"/>
<circle cx="443.8" cy="1888.5" r="10.6"/>
<circle cx="454.5" cy="1889.4" r="10.6"/>
<circle cx="480.9" cy="1891.0" r="10.6"/>
<circle cx="499.1" cy="1884.4" r="10.6"/>
<circle cx="515.6" cy="1877.0" r="10.6"/>
<circle cx="543.7" cy="1895.1" r="10.6"/>
<circle cx="558.5" cy="1895.1" r="10.6"/>
<circle cx="584.7" cy="1891.8" r="10.6"/>
<circle cx="599.5" cy="1885.2" r="10.6"/>
<circle cx="619.4" cy="1878.6" r="10.6"/>
<circle cx="642.5" cy="1888.5" r="10.6"/>
<circle cx="670.5" cy="1902.6" r="10.6"/>
<circle cx="682.1" cy="1896.0" r="10.6"/>
<circle cx="703.6" cy="1900.1" r="10.6"/>
<circle cx="723.1" cy="1894.3" r="10.6"/>
<circle cx="747.9" cy="1897.6" r="10.6"/>
<circle cx="757.8" cy="1898.4" r="10.6"/>
<circle cx="778.4" cy="1903.4" r="10.6"/>
<circle cx="794.1" cy="1895.1" r="10.6"/>
<circle cx="810.6" cy="1900.1" r="10.6"/>
<circle cx="827.1" cy="1899.2" r="10.6"/>
<circle cx="858.5" cy="1903.4" r="10.6"/>
<circle cx="865.0" cy="1905.3" r="10.6"/>
<circle cx="880.6" cy="1893.0" r="10.6"/>
<circle cx="892.9" cy="1886.5" r="10.6"/>
<circle cx="913.4" cy="1898.8" r="10.6"/>
<circle cx="924.0" cy="1900.4" r="10.6"/>
</g>
<path d="M110.0,1881 H923.5" stroke="#555555" stroke-width="4.5"/>
<rect x="110.0" y="1587.6" width="813.5" height="641.9000000000001" stroke-width="2.8" stroke="#000" fill="none"/>
<circle cx="601.5" cy="1643.9" r="8.3" fill="#E82127"/>
<path d="M564.2,1689 H638.6" stroke="#555555" stroke-width="4"/>
<text x="641.28" y="1654.66" font-size="36.56" fill="#000">Data points</text>
<text x="643.09" y="1702.16" font-size="36.34" fill="#000">Mean intensity</text>
<text x="79.45" y="1602.57" font-size="42.54" fill="#000">3</text>
<text x="45.91" y="1708.59" font-size="41.41" fill="#000">2.5</text>
<text x="80.19" y="1812.70" font-size="41.29" fill="#000">2</text>
<text x="46.54" y="1919.39" font-size="40.71" fill="#000"> .5</text>
<path d="M0.3707,-0.688 L0.3707,0 L0.2785,0 L0.2785,-0.5225 C0.22,-0.48 0.17,-0.45 0.113,-0.4303 L0.113,-0.5225 C0.20,-0.555 0.27,-0.61 0.308,-0.688 Z" fill="#000" transform="translate(46.54,1919.39) scale(40.714)"/>
<path d="M0.3707,-0.688 L0.3707,0 L0.2785,0 L0.2785,-0.5225 C0.22,-0.48 0.17,-0.45 0.113,-0.4303 L0.113,-0.5225 C0.20,-0.555 0.27,-0.61 0.308,-0.688 Z" fill="#000" transform="translate(85.50,2027.80) scale(43.169)"/>
<text x="45.03" y="2134.53" font-size="41.83" fill="#000">0.5</text>
<text x="75.35" y="2239.59" font-size="41.27" fill="#000">0</text>
<text x="98.42" y="2267.38" font-size="41.55" fill="#000">0</text>
<text x="221.24" y="2267.38" font-size="41.55" fill="#000">30</text>
<text x="357.93" y="2267.38" font-size="41.55" fill="#000">60</text>
<text x="493.88" y="2267.38" font-size="41.55" fill="#000">90</text>
<text x="616.29" y="2267.38" font-size="41.55" fill="#000"> 20</text>
<path d="M0.3707,-0.688 L0.3707,0 L0.2785,0 L0.2785,-0.5225 C0.22,-0.48 0.17,-0.45 0.113,-0.4303 L0.113,-0.5225 C0.20,-0.555 0.27,-0.61 0.308,-0.688 Z" fill="#000" transform="translate(616.29,2267.38) scale(41.549)"/>
<text x="749.34" y="2267.38" font-size="41.55" fill="#000"> 50</text>
<path d="M0.3707,-0.688 L0.3707,0 L0.2785,0 L0.2785,-0.5225 C0.22,-0.48 0.17,-0.45 0.113,-0.4303 L0.113,-0.5225 C0.20,-0.555 0.27,-0.61 0.308,-0.688 Z" fill="#000" transform="translate(749.34,2267.38) scale(41.549)"/>
<text x="885.59" y="2267.38" font-size="41.55" fill="#000"> 80</text>
<path d="M0.3707,-0.688 L0.3707,0 L0.2785,0 L0.2785,-0.5225 C0.22,-0.48 0.17,-0.45 0.113,-0.4303 L0.113,-0.5225 C0.20,-0.555 0.27,-0.61 0.308,-0.688 Z" fill="#000" transform="translate(885.59,2267.38) scale(41.549)"/>
<text x="370.71" y="2324.97" font-size="44.37" fill="#000">Time (minutes)</text>
<text x="0" y="0" font-size="44.28" transform="translate(32.48,1967.41) rotate(-90)">Counts</text>
<text x="-0.19" y="1590.61" font-size="42.35" font-weight="bold" fill="#000">(c)</text>
<text x="114.79" y="1579.29" font-size="41.27" fill="#000">x 0</text>
<path d="M0.3707,-0.688 L0.3707,0 L0.2785,0 L0.2785,-0.5225 C0.22,-0.48 0.17,-0.45 0.113,-0.4303 L0.113,-0.5225 C0.20,-0.555 0.27,-0.61 0.308,-0.688 Z" fill="#000" transform="translate(135.42,1579.29) scale(41.268)"/>
<text x="180.29" y="1565.80" font-size="22.32" font-weight="bold" fill="#000">4</text>
</svg></body></html>
